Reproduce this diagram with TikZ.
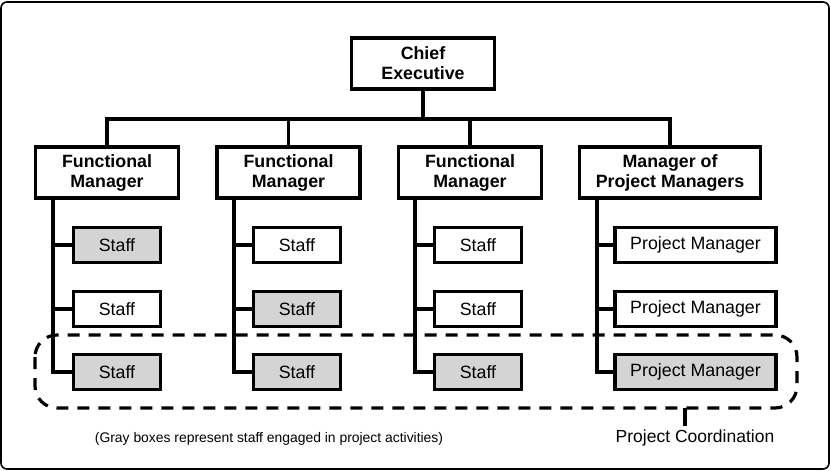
\documentclass[tikz,border=0pt]{standalone}
\usepackage{fontspec}
\setmainfont{Liberation Sans}
\usetikzlibrary{calc}
\definecolor{boxgray}{HTML}{D4D4D4}
\begin{document}
\begin{tikzpicture}[x=1pt,y=-1pt,
  every node/.style={inner sep=0pt, outer sep=0pt},
  mgr/.style={draw, line width=3.1pt, fill=white, minimum width=143pt, minimum height=51pt,
    align=center, font=\fontsize{17.8}{20}\selectfont\bfseries},
  staffbox/.style={draw, line width=3.1pt, fill=white, minimum width=87pt, minimum height=35pt,
    font=\fontsize{17.8}{20}\selectfont},
  pmbox/.style={staffbox, minimum width=161pt},
  engaged/.style={fill=boxgray},
  conn/.style={line width=3.1pt},
  coordbox/.style={line width=3.2pt, dash pattern=on 12pt off 9pt, rounded corners=22pt}
]
\useasboundingbox (0,0) rectangle (831,471);
\draw[line width=1.6pt, rounded corners=6pt] (1,2) rectangle (829,469);

% top
\node[mgr] (chief) at (423,63.5) {Chief\\Executive};
\node[mgr] (fm1) at (107,172.5) {Functional\\Manager};
\node[mgr] (fm2) at (288.5,172.5) {Functional\\Manager};
\node[mgr] (fm3) at (470,172.5) {Functional\\Manager};
\node[mgr, minimum width=181pt] (mpm) at (670,172.5) {Manager of\\Project Managers};

% staff
\node[staffbox, engaged] (s11) at (117,245) {Staff};
\node[staffbox] (s12) at (117,309) {Staff};
\node[staffbox, engaged] (s13) at (117,372) {Staff};
\node[staffbox] (s21) at (297,245) {Staff};
\node[staffbox, engaged] (s22) at (297,309) {Staff};
\node[staffbox, engaged] (s23) at (297,372) {Staff};
\node[staffbox] (s31) at (478,245) {Staff};
\node[staffbox] (s32) at (478,309) {Staff};
\node[staffbox, engaged] (s33) at (478,372) {Staff};
\node[pmbox] (p1) at (695.5,245) {Project Manager};
\node[pmbox] (p2) at (695.5,309) {Project Manager};
\node[pmbox, engaged] (p3) at (695.5,372) {Project Manager};

% bus
\coordinate (bus) at (0,119);
\draw[conn] (fm1.north) |- (bus -| fm2.north) -| (mpm.north);
\draw[conn] (fm2.north) -- (fm2.north |- bus);
\draw[conn] (fm3.north) -- (fm3.north |- bus);
\draw[conn] (chief.south) -- (chief.south |- bus);

% columns
\coordinate (v1) at (53,0);
\coordinate (v2) at (234,0);
\coordinate (v3) at (415,0);
\coordinate (v4) at (597,0);
\draw[conn] (v1 |- fm1.south) |- (s13.west);
\draw[conn] (s11.west) -- (s11.west -| v1);
\draw[conn] (s12.west) -- (s12.west -| v1);
\draw[conn] (v2 |- fm2.south) |- (s23.west);
\draw[conn] (s21.west) -- (s21.west -| v2);
\draw[conn] (s22.west) -- (s22.west -| v2);
\draw[conn] (v3 |- fm3.south) |- (s33.west);
\draw[conn] (s31.west) -- (s31.west -| v3);
\draw[conn] (s32.west) -- (s32.west -| v3);
\draw[conn] (v4 |- mpm.south) |- (p3.west);
\draw[conn] (p1.west) -- (p1.west -| v4);
\draw[conn] (p2.west) -- (p2.west -| v4);

% project coordination
\draw[coordbox] (35,335) rectangle (797,408);
\coordinate (tickTop) at (685,408);
\coordinate (tickEnd) at (685,426);
\node[font=\fontsize{17.5}{20}\selectfont] (pc) at (695,438) {Project Coordination};
\draw[line width=3.2pt] (tickTop) -- (tickEnd);
\node[font=\fontsize{13.9}{16}\selectfont] (note) at (269,439) {(Gray boxes represent staff engaged in project activities)};
\end{tikzpicture}
\end{document}
